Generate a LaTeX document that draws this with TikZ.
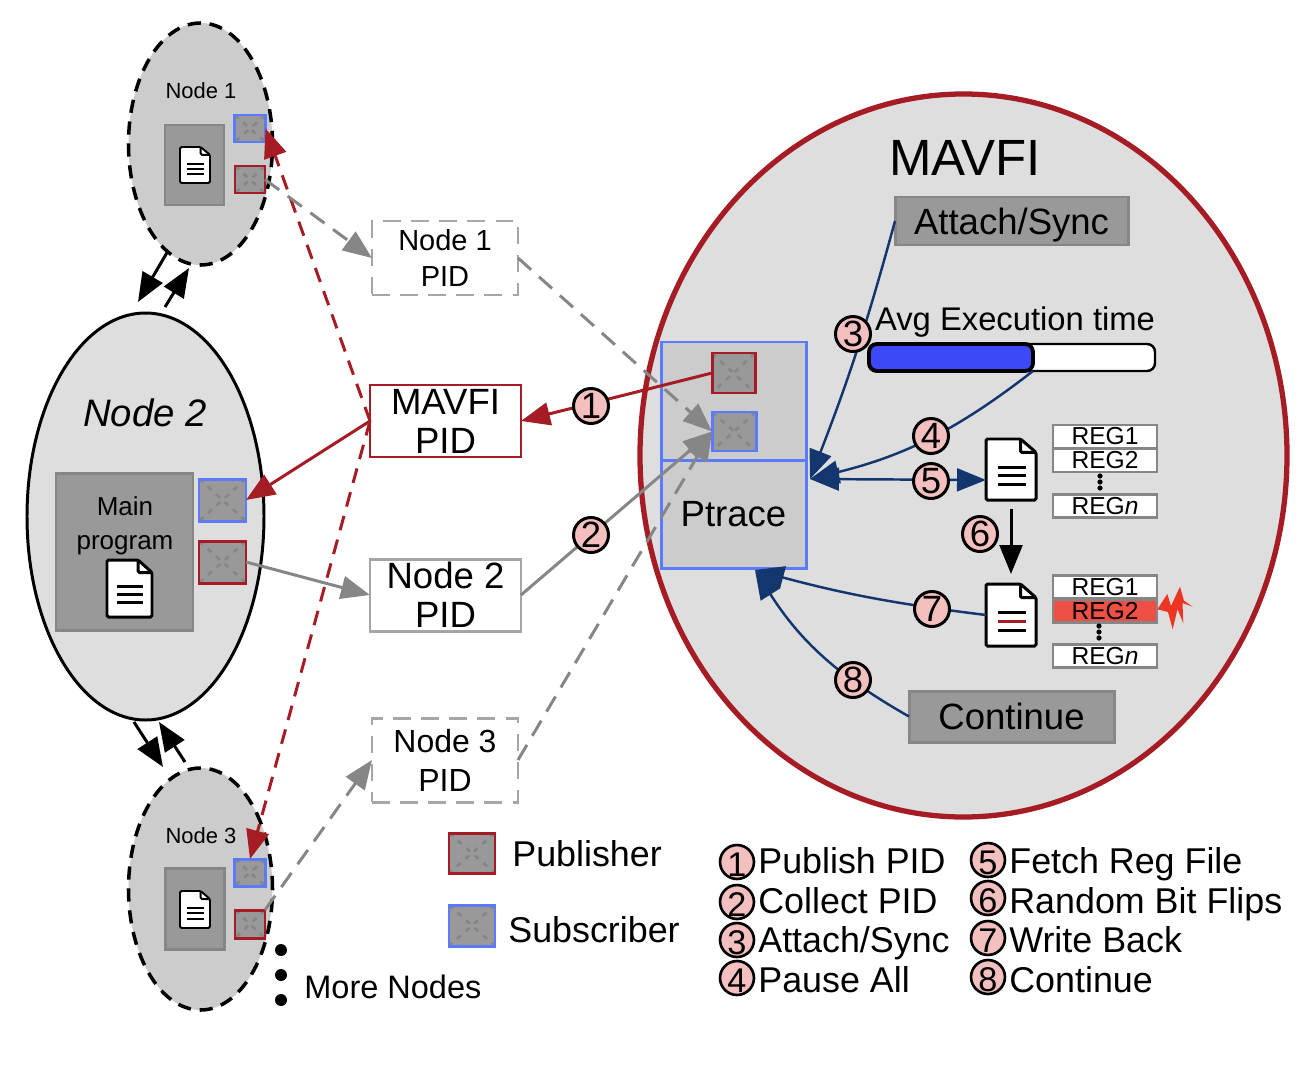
\documentclass[tikz,border=0pt]{standalone}
\usepackage{fontspec}
\setmainfont{Liberation Sans}
\usetikzlibrary{arrows.meta,shapes.geometric}
\definecolor{mavred}{HTML}{A51C24}
\definecolor{subblue}{HTML}{5B7BFF}
\definecolor{navy}{HTML}{14366F}
\definecolor{pinkc}{HTML}{F4BFBF}
\definecolor{lightc}{HTML}{DEDEDE}
\definecolor{midc}{HTML}{CCCCCC}
\definecolor{darkc}{HTML}{999999}
\definecolor{linec}{HTML}{868686}
\definecolor{regred}{HTML}{EE5045}
\definecolor{boltc}{HTML}{EE3524}
\definecolor{barblue}{HTML}{3D48F8}
\def\pu{0.02cm}
\tikzset{>={Triangle[length=16.5pt,width=13pt]}}
\tikzset{
  fxl/.style={font=\fontsize{20.8}{22.2}\selectfont},
  fl/.style={font=\fontsize{18.2}{22.2}\selectfont},
  fm/.style={font=\fontsize{16.5}{20.5}\selectfont},
  fs/.style={font=\fontsize{14.8}{19.3}\selectfont},
  fxs/.style={font=\fontsize{12.5}{15}\selectfont},
  freg/.style={font=\fontsize{14}{15}\selectfont},
  sized/.style 2 args={minimum width=#1*\pu, minimum height=#2*\pu, inner sep=0pt, outer sep=0pt},
  pubbox/.style={draw=#1, line width=1.7pt, fill=darkc, path picture={
      \draw[linec, line width=1.5pt, dash pattern=on 3pt off 3.5pt] (path picture bounding box.north west) -- (path picture bounding box.south east);
      \draw[linec, line width=1.5pt, dash pattern=on 3pt off 3.5pt] (path picture bounding box.north east) -- (path picture bounding box.south west);}},
  grayblock/.style={draw=linec, line width=1.7pt, fill=darkc},
  pidbox/.style={draw=#1, line width=1.7pt, fill=white, align=center},
  piddash/.style={dash pattern=on 10pt off 6pt},
  regbox/.style={draw=linec, line width=1.6pt, fill=#1, freg, sized={104}{23}},
  ptbox/.style={draw=subblue, line width=1.7pt, fill=midc},
  num/.style={circle, draw=black, line width=1.7pt, fill=pinkc, fxl, minimum size=35*\pu, inner sep=0pt},
  lnum/.style={circle, draw=black, line width=1.5pt, fill=pinkc, font=\fontsize{19.5}{20}\selectfont, text height=16pt, text depth=0pt, minimum size=33*\pu, inner sep=0pt},
  leg/.style={anchor=base west, inner sep=0pt, font=\fontsize{20.4}{22}\selectfont},
  redline/.style={mavred, line width=1.7pt},
  reddash/.style={mavred, line width=1.7pt, dash pattern=on 8.5pt off 5.5pt},
  grayline/.style={linec, line width=1.7pt},
  graydash/.style={linec, line width=1.7pt, dash pattern=on 10pt off 6pt},
  navyline/.style={navy, line width=1.4pt},
  blackline/.style={black, line width=1.7pt},
  nodeout/.style={draw=black, line width=2pt, dash pattern=on 7.5pt off 5pt, fill=midc},
}
\newcommand{\docicon}[7][black]{
  \begin{scope}[shift={(#3,#4)}, x=#5*0.02cm, y=-#6*0.02cm, line width=#7pt, rounded corners=0.8pt]
    \node[sized={#5}{#6}] (#2) at (0.5,0.5) {};
    \draw[fill=white] (0,0) -- (0.69,0) -- (1,0.22) -- (1,1) -- (0,1) -- cycle;
    \draw (0.69,0) -- (0.69,0.22) -- (1,0.22);
    \draw (0.23,0.46) -- (0.79,0.46);
    \draw[#1] (0.23,0.6) -- (0.79,0.6);
    \draw (0.23,0.75) -- (0.79,0.75);
  \end{scope}
}
\begin{document}
\begin{tikzpicture}[x=0.02cm, y=-0.02cm]
  \useasboundingbox (0,0) rectangle (1302,1072);
  \node[ellipse, sized={144}{242}, nodeout] (node1) at (200.5,144) {};
  \node[ellipse, sized={237}{407}, draw=black, line width=1.7pt, fill=lightc] (node2) at (145.5,516.5) {};
  \node[ellipse, sized={144}{242}, nodeout] (node3) at (200.5,889) {};
  \node[fxs] (t1) at (201,91) {Node 1};
  \node[fxs] (t3) at (201,836) {Node 3};
  \node[font=\fontsize{21.8}{24}\selectfont\itshape] (t2) at (145,413) {Node 2};
  \node[grayblock, sized={59}{80}] (prog1) at (194.5,165) {};
  \node[grayblock, sized={59}{81}] (prog3) at (195,909) {};
  \node[grayblock, sized={137}{157}] (prog2) at (124.5,551.5) {};
  \node[fs, align=center] (t4) at (125,526) {Main\\program};
  \docicon{doc3}{180}{147}{30}{36}{1.1}
  \docicon{doc4}{180}{891}{30}{37}{1.1}
  \docicon{doc5}{107}{560}{45}{57}{1.7}
  \node[pubbox=subblue, sized={31}{27}] (sub1) at (250,128.5) {};
  \node[pubbox=mavred, sized={30}{27}] (pub1) at (250,179.5) {};
  \node[pubbox=subblue, sized={47}{42}] (sub2) at (222.5,500) {};
  \node[pubbox=mavred, sized={47}{42}] (pub2) at (222.5,562) {};
  \node[pubbox=subblue, sized={31}{27}] (sub3) at (250,872.5) {};
  \node[pubbox=mavred, sized={30}{28}] (pub3) at (250,924) {};
  \node[ellipse, sized={647}{723}, draw=mavred, line width=3pt, fill=lightc] (mavfi) at (963.5,455.5) {};
  \node[font=\fontsize{29}{32}\selectfont] (t5) at (965,158) {MAVFI};
  \node[grayblock, fxl, text depth=0pt, sized={233}{48}] (attach) at (1011.5,221) {Attach/Sync};
  \node[grayblock, fxl, sized={205}{51}] (cont) at (1011.5,716.5) {Continue};
  \node[ptbox, sized={145}{118}] (pt1) at (733.5,401) {};
  \node[ptbox, fxl, text depth=0pt, sized={145}{108}] (pt2) at (733.5,514) {Ptrace};
  \node[pubbox=mavred, sized={43}{40}] (pubp) at (733.5,373) {};
  \node[pubbox=subblue, sized={44}{39}] (subp) at (734,431.5) {};
  \node[pidbox=black!35, piddash, sized={146}{74}, fm] (pid1) at (445,258) {Node 1\\PID};
  \node[pidbox=mavred, sized={151}{72}, fxl] (pidm) at (445.5,421) {MAVFI\\PID};
  \node[pidbox=black!35, sized={151}{72}, fxl] (pid2) at (445.5,595) {Node 2\\PID};
  \node[pidbox=black!35, piddash, sized={146}{84}, fl] (pid3) at (445,760) {Node 3\\PID};
  \node[anchor=base, inner sep=0pt, font=\fontsize{18.65}{20}\selectfont] (t6) at (1015,330) {Avg Execution time};
  \node[draw=black, line width=1.4pt, fill=white, rounded corners=4.5pt, sized={286}{27}] (bar) at (1012,357.5) {};
  \node[draw=black, line width=2.2pt, fill=barblue, rounded corners=4.5pt, sized={164}{27}] (barfill) at (951,357.5) {};
  \docicon{doc1}{986}{439}{50}{61}{1.7}
  \docicon[mavred]{doc2}{986}{584}{50}{62}{1.7}
  \node[regbox=white] (r11) at (1105,436.5) {REG1};
  \node[regbox=white] (r12) at (1105,460.5) {REG2};
  \node[regbox=white] (r1n) at (1105,506) {REG\textit{n}};
  \node[regbox=white] (r21) at (1105,587) {REG1};
  \node[regbox=regred] (r22) at (1105,611) {REG2};
  \node[regbox=white] (r2n) at (1105,656) {REG\textit{n}};
  \foreach \i in {476,482,488} \fill (1100,\i) circle (2.6);
  \foreach \i in {626,632,638} \fill (1099,\i) circle (2.6);
  \fill[boltc] (1157.3,609.3) -- (1167.3,594) -- (1171,606) -- (1180,586.7) -- (1184,600.7) -- (1192.7,606.7) -- (1182.5,603) -- (1183.3,623.3) -- (1177.5,609) -- (1172.7,629.3) -- (1168,612) -- cycle;
  \coordinate (aux1) at (138,302);
  \coordinate (aux2) at (165,307);
  \coordinate (aux3) at (189,268);
  \coordinate (aux4) at (163,767);
  \coordinate (aux5) at (185,762);
  \coordinate (aux6) at (159,722);
  \coordinate (aux9) at (134,722);
  \draw[->, blackline] (node1.253) -- (aux1);
  \draw[->, blackline] (aux2) -- (aux3);
  \draw[->, blackline] (aux9) -- (aux4);
  \draw[->, blackline] (aux5) -- (aux6);
  \draw[->, reddash] (pidm.west) -- (sub1.east);
  \draw[->, reddash] (pidm.west) -- (sub3.north);
  \draw[->, redline] (pidm.west) -- (sub2.east);
  \draw[->, redline] (pubp.west) -- (pidm.east);
  \draw[->, graydash] (pub1.east) -- (pid1.west);
  \draw[->, grayline] (pub2.east) -- (pid2.west);
  \draw[->, graydash] (pub3.north east) -- (pid3.west);
  \draw[->, graydash] (pid1.east) -- (subp.west);
  \draw[->, grayline] (pid2.east) -- (subp.west);
  \draw[->, graydash] (pid3.east) -- (subp.west);
  \coordinate (aux7) at (810,479);
  \coordinate (aux8) at (755,570);
  \coordinate (aux10) at (986,480);
  \coordinate (aux11) at (1011,509);
  \coordinate (aux12) at (1011,574);
  \draw[->, navyline] (attach.west) to[bend left=3] (aux7);
  \draw[->, navyline] (barfill.south east) to[bend left=12] (aux7);
  \draw[<->, navyline] (aux7) -- (aux10);
  \draw[->, navyline] (doc2.west) to[bend left=4] (aux8);
  \draw[->, navyline] (cont.west) to[bend left=14] (aux8);
  \draw[->, blackline] (aux11) -- (aux12);
  \node[num] (c1) at (591,406) {1};
  \node[num] (c2) at (591,535) {2};
  \node[num] (c3) at (853,334) {3};
  \node[num] (c4) at (931,436) {4};
  \node[num] (c5) at (931,481) {5};
  \node[num] (c6) at (980,534) {6};
  \node[num] (c7) at (932,609) {7};
  \node[num] (c8) at (853,680) {8};
  \node[pubbox=mavred, sized={46}{40}] (legpub) at (472,853) {};
  \node[pubbox=subblue, sized={46}{41}] (legsub) at (472,925.5) {};
  \node[leg] (t7) at (512,866) {Publisher};
  \node[leg] (t8) at (508,942) {Subscriber};
  \node[leg, font=\fontsize{18.5}{22}\selectfont] (t9) at (304,998) {More Nodes};
  \foreach \i in {950,975,1000} \fill (281,\i) circle (6);
  \node[lnum] (l1) at (737,862) {1};
  \node[lnum] (l2) at (737,902) {2};
  \node[lnum] (l3) at (737,940) {3};
  \node[lnum] (l4) at (737,978) {4};
  \node[lnum] (l5) at (988,860) {5};
  \node[lnum] (l6) at (988,898) {6};
  \node[lnum] (l7) at (988,938) {7};
  \node[lnum] (l8) at (988,977) {8};
  \node[leg] (e1) at (758,873) {Publish PID};
  \node[leg] (e2) at (758,913) {Collect PID};
  \node[leg] (e3) at (758,952) {Attach/Sync};
  \node[leg] (e4) at (758,992) {Pause All};
  \node[leg] (e5) at (1009,873) {Fetch Reg File};
  \node[leg] (e6) at (1009,913) {Random Bit Flips};
  \node[leg] (e7) at (1009,952) {Write Back};
  \node[leg] (e8) at (1009,992) {Continue};
\end{tikzpicture}
\end{document}
